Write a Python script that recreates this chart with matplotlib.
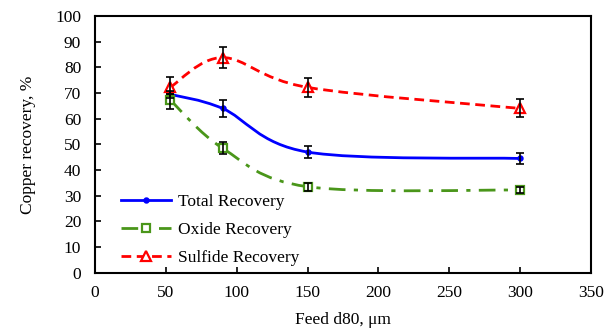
import matplotlib
matplotlib.use("Agg")
import matplotlib.pyplot as plt
from matplotlib.path import Path
from matplotlib.patches import PathPatch
from matplotlib.lines import Line2D
import numpy as np

plt.rcParams['font.family'] = ['Liberation Serif', 'DejaVu Serif']

feed_d80 = [53, 90, 150, 300]
total = [69.5, 64.0, 47.0, 44.5]
total_err = [0, 3.3, 2.4, 2.0]
oxide = [67.3, 48.5, 33.5, 32.2]
oxide_err = [3.5, 2.3, 1.6, 1.2]
sulfide = [72.2, 83.8, 72.2, 64.0]
sulfide_err = [4.0, 4.2, 3.8, 3.5]

x_ticks = [0, 50, 100, 150, 200, 250, 300, 350]
y_ticks = [0, 10, 20, 30, 40, 50, 60, 70, 80, 90, 100]

blue = "#0000FF"
green = "#4A961A"
red = "#FF0000"


def smooth_path(xs, ys):
    pts = np.column_stack([xs, ys]).astype(float)
    n = len(pts)
    verts = [pts[0]]
    codes = [Path.MOVETO]
    for i in range(n - 1):
        p0 = pts[i - 1] if i > 0 else pts[i]
        p1 = pts[i]
        p2 = pts[i + 1]
        p3 = pts[i + 2] if i + 2 < n else pts[i + 1]
        c1 = p1 + (p2 - p0) / 6.0
        c2 = p2 - (p3 - p1) / 6.0
        verts += [c1, c2, p2]
        codes += [Path.CURVE4] * 3
    return Path(verts, codes)


fig = plt.figure(figsize=(6.15, 3.32), dpi=100)
ax = fig.add_axes([0.1545, 0.1786, 0.8065, 0.7732])

FS = 12.5

series = [
    (total, total_err, blue, '-', 'o', 3, blue, 'Total Recovery', 2.0),
    (oxide, oxide_err, green, (0, (6, 3, 1.5, 3)), 's', 6, 'white', 'Oxide Recovery', 2.0),
    (sulfide, sulfide_err, red, (0, (3.5, 2)), '^', 7, 'white', 'Sulfide Recovery', 2.0),
]

handles = []
for vals, errs, col, ls, mk, ms, mfc, lab, lw in series:
    patch = PathPatch(smooth_path(feed_d80, vals), facecolor='none', edgecolor=col,
                      lw=lw, linestyle=ls, zorder=2)
    ax.add_patch(patch)
    ax.plot(feed_d80, vals, linestyle='none', marker=mk, ms=ms, mfc=mfc, mec=col,
            mew=1.6, zorder=3)
    ax.errorbar(feed_d80, vals, yerr=errs, fmt='none', ecolor='black', elinewidth=1.2,
                capsize=3, capthick=1.2, zorder=4)
    handles.append(Line2D([], [], color=col, lw=lw, linestyle=ls, marker=mk, ms=ms,
                          mfc=mfc, mec=col, mew=1.6, label=lab))

ax.set_xlim(0, 350)
ax.set_ylim(0, 100)
ax.set_xticks(x_ticks)
ax.set_yticks(y_ticks)
ax.tick_params(direction='in', length=4, width=1.2, labelsize=FS,
               top=False, right=False)
ax.tick_params(axis='x', pad=9)
ax.tick_params(axis='y', pad=10)
for s in ax.spines.values():
    s.set_linewidth(1.5)

ax.set_xlabel('Feed d80, μm', fontsize=FS, labelpad=8)
ax.set_ylabel('Copper recovery, %', fontsize=FS, labelpad=14)

ax.legend(handles=handles, loc='lower left', bbox_to_anchor=(0.02, -0.035), frameon=False,
          fontsize=FS, handlelength=2.9, labelspacing=0.67, numpoints=1, handletextpad=0.4)

fig.savefig('out.png', dpi=100)
